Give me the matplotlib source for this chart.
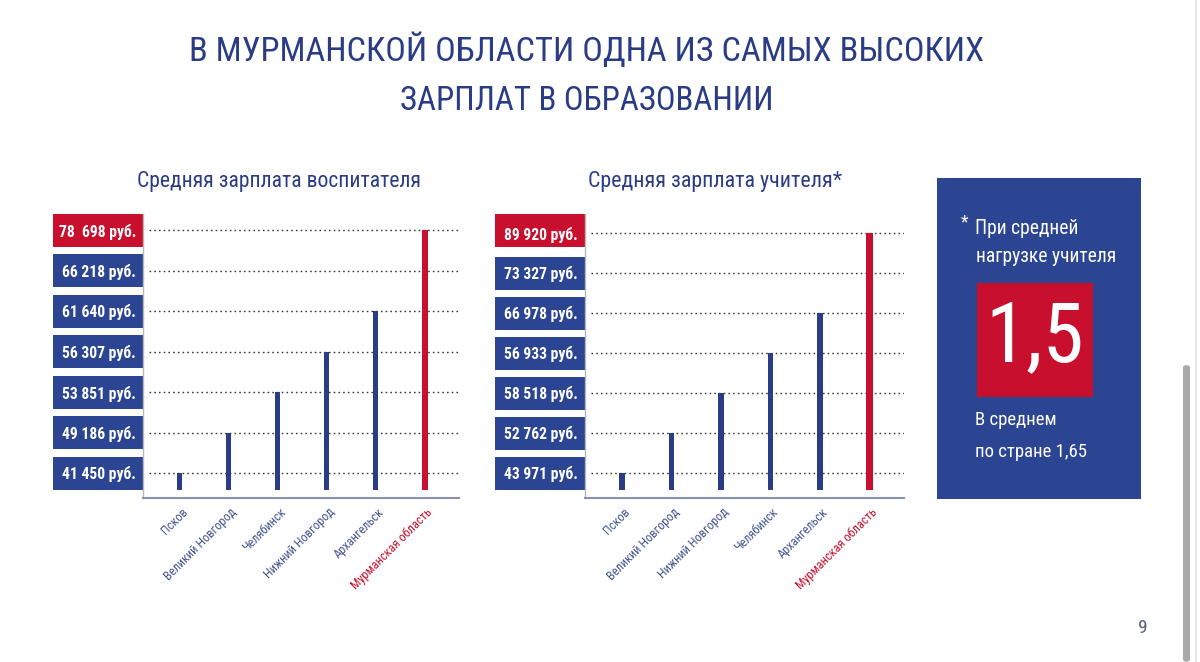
import matplotlib
matplotlib.use("Agg")
import matplotlib.pyplot as plt
from matplotlib import font_manager
from matplotlib.font_manager import FontProperties
from matplotlib.patches import Rectangle, FancyBboxPatch
from matplotlib.lines import Line2D
import matplotlib.transforms as mtransforms

# ---------------- data ----------------
title_lines = ["В МУРМАНСКОЙ ОБЛАСТИ ОДНА ИЗ САМЫХ ВЫСОКИХ", "ЗАРПЛАТ В ОБРАЗОВАНИИ"]

left_title = "Средняя зарплата воспитателя"
left_categories = ["Псков", "Великий Новгород", "Челябинск", "Нижний Новгород",
                   "Архангельск", "Мурманская область"]
left_values = [41450, 49186, 53851, 56307, 61640, 78698]
# level labels, bottom to top (the axis is a ranked scale, not linear)
left_levels = [41450, 49186, 53851, 56307, 61640, 66218, 78698]
left_level_labels = ["41 450 руб.", "49 186 руб.", "53 851 руб.", "56 307 руб.",
                     "61 640 руб.", "66 218 руб.", "78  698 руб."]

right_title = "Средняя зарплата учителя*"
right_categories = ["Псков", "Великий Новгород", "Нижний Новгород", "Челябинск",
                    "Архангельск", "Мурманская область"]
right_values = [43971, 52762, 58518, 56933, 66978, 89920]
right_levels = [43971, 52762, 58518, 56933, 66978, 73327, 89920]
right_level_labels = ["43 971 руб.", "52 762 руб.", "58 518 руб.", "56 933 руб.",
                      "66 978 руб.", "73 327 руб.", "89 920 руб."]

note_line1 = "При средней"
note_line2 = "нагрузке учителя"
note_value = "1,5"
note_line3 = "В среднем"
note_line4 = "по стране 1,65"
page_number = "9"

# ---------------- fonts: pick the most condensed installed face ----------------
PREF = ["Noto Serif", "Noto Sans", "Liberation Sans Narrow", "Roboto Condensed",
        "DejaVu Serif", "DejaVu Sans", "Roboto", "Open Sans", "Liberation Sans"]


def _num(v, table, default):
    if isinstance(v, (int, float)):
        return v
    return table.get(str(v).lower(), default)


def pick_font(target_weight):
    best = None
    for f in font_manager.fontManager.ttflist:
        if f.name not in PREF or f.style != "normal":
            continue
        w = _num(f.weight, font_manager.weight_dict, 400)
        if abs(w - target_weight) > 60:
            continue
        s = _num(f.stretch, font_manager.stretch_dict, 500)
        key = (s, PREF.index(f.name), abs(w - target_weight))
        if best is None or key < best[0]:
            best = (key, f.fname)
    if best is None:
        return FontProperties(family="DejaVu Sans", stretch="condensed",
                              weight=target_weight)
    return FontProperties(fname=best[1])


FP = pick_font(400)
FPB = pick_font(700)

NAVY = "#2B3C87"
BLUE = "#2B4592"
RED = "#C8102E"
LABEL_NAVY = "#44548F"

W, H = 1200, 662
fig = plt.figure(figsize=(W / 100, H / 100), dpi=100)
fig.patch.set_facecolor("white")
renderer = fig.canvas.get_renderer()


def fx(px):
    return px / W


def fy(py):
    return (H - py) / H


def size_for(text, fp, target_w, max_size):
    t = fig.text(0, 0, text, fontproperties=fp)
    t.set_fontsize(20)
    w = t.get_window_extent(renderer).width
    t.remove()
    return min(max_size, 20 * target_w / w)


def ftext(x, y, s, fp, target_w, max_size, **kw):
    size = size_for(s, fp, target_w, max_size)
    t = fig.text(x, y, s, fontproperties=fp, **kw)
    t.set_fontsize(size)
    return t


# title
ftext(fx(587), fy(50), title_lines[0], FP, 795, 38, ha="center", va="center", color=NAVY)
ftext(fx(587), fy(101), title_lines[1], FP, 373, 38, ha="center", va="center", color=NAVY)

# subtitles
ftext(fx(137), fy(182), left_title, FP, 283, 18, ha="left", va="center", color=NAVY)
ftext(fx(588), fy(182), right_title, FP, 254, 18, ha="left", va="center", color=NAVY)

BOX_SIZE = size_for("66 218 руб.", FPB, 74, 14)
CAT_SIZE = size_for("Великий Новгород", FP, 96, 10)


def draw_panel(x0, x1, box_left, top_grid, categories, values, levels, level_labels):
    bottom_px, top_px = 498, 214
    ax = fig.add_axes([fx(x0), fy(bottom_px), fx(x1) - fx(x0), (bottom_px - top_px) / H])
    ax.set_facecolor("none")
    n = len(categories)
    nl = len(levels)
    level_pos = list(range(nl))
    step = (473 - top_grid) / (nl - 1)          # pixels per level
    ax.set_xlim(-0.75, n - 0.3)
    ax.set_ylim(-(bottom_px - 473) / step, (473 - top_px) / step)
    base = -(490 - 473) / step
    box_h = 33 / step

    # dotted gridlines at each level
    for lv in level_pos:
        ax.plot([-0.62, n - 0.3], [lv, lv], linestyle=(0, (1.2, 2.2)), color="#3a3a3a",
                lw=1.0, zorder=1)

    # bars
    for i, (c, v) in enumerate(zip(categories, values)):
        lv = levels.index(v)
        last = i == n - 1
        ax.bar(i, lv - base, bottom=base, width=0.13 if last else 0.11,
               color=RED if last else NAVY, zorder=3)

    # level label boxes
    trans = ax.get_yaxis_transform()
    box_w = (x0 - box_left) / (x1 - x0)
    for lv in level_pos:
        col = RED if lv == nl - 1 else BLUE
        yc = lv if lv < nl - 1 else (473 - 230) / step
        ax.add_patch(Rectangle((-box_w, yc - box_h / 2), box_w, box_h, transform=trans,
                               facecolor=col, edgecolor="none", clip_on=False, zorder=0.5))
    ax.set_yticks(level_pos)
    ax.set_yticklabels(level_labels, fontproperties=FPB, color="white")
    for lab in ax.get_yticklabels():
        lab.set_fontsize(BOX_SIZE)
    ax.tick_params(axis="y", length=0, pad=5)

    # category labels
    ax.set_xticks(range(n))
    ax.set_xticklabels(categories, rotation=45, ha="right", va="center",
                       rotation_mode="anchor", fontproperties=FP)
    ax.tick_params(axis="x", length=0, pad=9)
    offset = mtransforms.ScaledTranslation(6 / 100, 0, fig.dpi_scale_trans)
    for i, lab in enumerate(ax.get_xticklabels()):
        lab.set_fontsize(CAT_SIZE)
        lab.set_color(RED if i == n - 1 else LABEL_NAVY)
        lab.set_transform(lab.get_transform() + offset)

    for s in ("top", "right"):
        ax.spines[s].set_visible(False)
    ax.spines["left"].set_color("#b8b8b8")
    ax.spines["left"].set_linewidth(1.0)
    ax.spines["bottom"].set_color("#8a90aa")
    ax.spines["bottom"].set_linewidth(1.5)
    return ax


draw_panel(143, 459, 53, 230, left_categories, left_values, left_levels, left_level_labels)
draw_panel(585, 904, 495, 233, right_categories, right_values, right_levels,
           right_level_labels)

# right info panel
bx0, bx1, by0, by1 = 937, 1141, 178, 499
axn = fig.add_axes([fx(bx0), fy(by1), fx(bx1) - fx(bx0), (by1 - by0) / H])
axn.set_facecolor(BLUE)
axn.set_xticks([])
axn.set_yticks([])
for s in axn.spines.values():
    s.set_visible(False)


def nx(px):
    return (px - bx0) / (bx1 - bx0)


def ny(py):
    return (by1 - py) / (by1 - by0)


NOTE_SIZE = size_for(note_line2, FP, 140, 17)
NOTE_SIZE2 = size_for(note_line4, FP, 112, 17)
VAL_SIZE = size_for(note_value, FP, 98, 90)


def ntext(x, y, s, size, **kw):
    t = axn.text(x, y, s, fontproperties=FP, color="white", transform=axn.transAxes, **kw)
    t.set_fontsize(size)
    return t


ntext(nx(961), ny(222), "*", NOTE_SIZE * 0.9, ha="left", va="center")
ntext(nx(975), ny(228), note_line1, NOTE_SIZE, ha="left", va="center")
ntext(nx(976), ny(256), note_line2, NOTE_SIZE, ha="left", va="center")
axn.add_patch(Rectangle((nx(977), ny(397)), nx(1093) - nx(977), ny(283) - ny(397),
                        transform=axn.transAxes, facecolor=RED, edgecolor="none"))
ntext(nx(1035), ny(338), note_value, VAL_SIZE, ha="center", va="center")
ntext(nx(975), ny(420), note_line3, NOTE_SIZE2, ha="left", va="center")
ntext(nx(975), ny(452), note_line4, NOTE_SIZE2, ha="left", va="center")

# page number
pn = fig.text(fx(1143), fy(628), page_number, ha="center", va="center",
              fontproperties=FP, color="#5a6080")
pn.set_fontsize(14)

# screen artefacts: scrollbar and right border
fig.add_artist(FancyBboxPatch((fx(1183), fy(662)), fx(1190) - fx(1183), fy(365) - fy(662),
                              boxstyle="round,pad=0,rounding_size=0.004",
                              transform=fig.transFigure, facecolor="#a9a9a9",
                              edgecolor="none"))
fig.add_artist(Line2D([fx(1196), fx(1196)], [0, 1], transform=fig.transFigure,
                      color="#e2e2e2", lw=1.2))

fig.savefig("out.png", dpi=100, facecolor="white")
